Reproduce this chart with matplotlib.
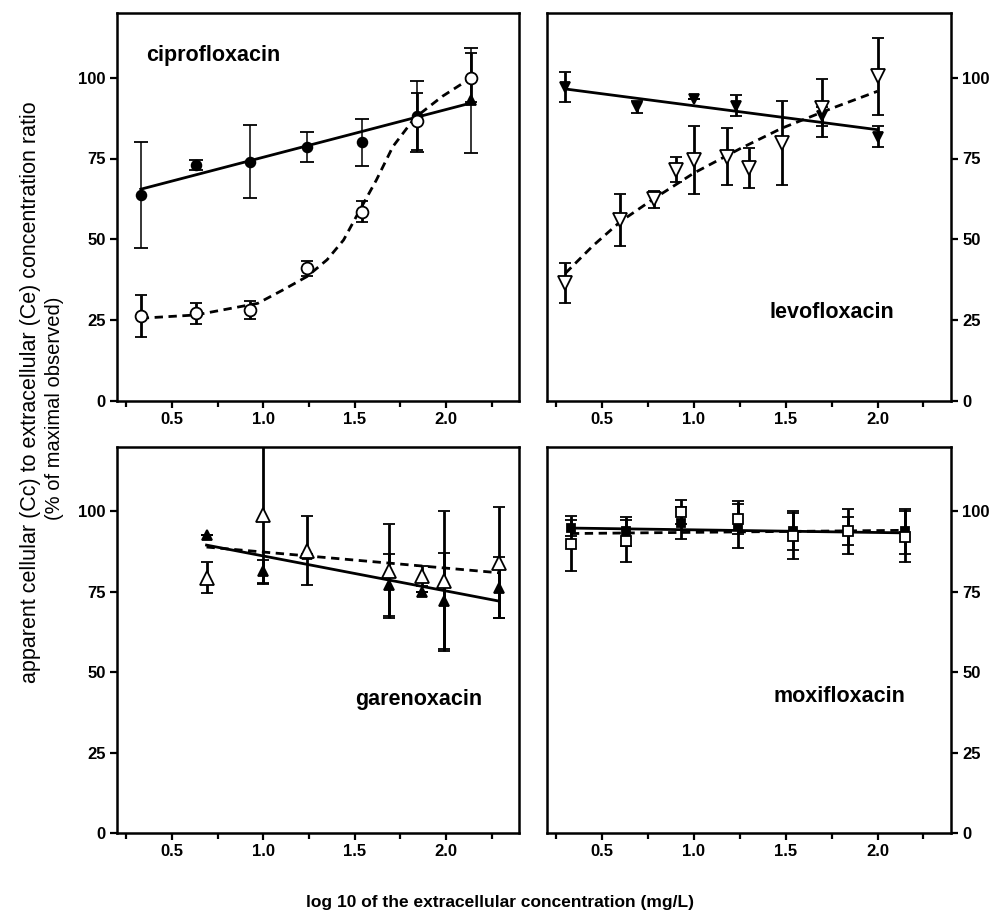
import matplotlib.pyplot as plt
from matplotlib.ticker import MultipleLocator

plt.rcParams['font.family'] = ['Liberation Sans', 'DejaVu Sans']

# ciprofloxacin
cip_x = [0.33, 0.63, 0.93, 1.24, 1.54, 1.84, 2.14]
cip_filled = [63.8, 72.9, 74.0, 78.5, 80.0, 88.0, 93.0]
cip_filled_err = [16.4, 1.5, 11.3, 4.7, 7.3, 10.9, 16.2]
cip_open = [26.3, 27.1, 28.2, 41.1, 58.6, 86.5, 100.0]
cip_open_err = [6.5, 3.2, 2.8, 2.3, 3.2, 8.9, 7.6]
cip_line_x = [0.33, 2.14]
cip_line_y = [65.5, 92.2]
cip_curve_x = [0.33, 0.63, 0.97, 1.11, 1.24, 1.35, 1.44, 1.54, 1.62, 1.71, 1.83, 1.98, 2.14]
cip_curve_y = [25.6, 26.6, 30.2, 34.4, 38.5, 43.7, 49.8, 60.2, 68.4, 78.7, 87.6, 94.2, 100.0]

# levofloxacin
levo_filled_x = [0.30, 0.69, 1.00, 1.23, 1.70, 2.00]
levo_filled = [97.1, 90.9, 93.5, 91.3, 88.0, 81.8]
levo_filled_err = [4.5, 1.8, 0.0, 3.2, 3.0, 3.2]
levo_open_x = [0.30, 0.60, 0.78, 0.90, 1.00, 1.18, 1.30, 1.48, 1.70, 2.00]
levo_open = [36.4, 56.0, 62.4, 71.5, 74.6, 75.6, 72.0, 79.8, 90.6, 100.4]
levo_open_err = [6.2, 8.0, 2.7, 3.9, 10.6, 8.9, 6.2, 13.0, 9.0, 12.0]
levo_line_x = [0.30, 2.00]
levo_line_y = [96.5, 83.9]
levo_curve_x = [0.30, 0.45, 0.60, 0.78, 1.00, 1.25, 1.48, 1.75, 2.00]
levo_curve_y = [39.5, 48.0, 55.5, 62.5, 70.5, 78.0, 84.4, 90.5, 95.8]

# garenoxacin
gar_x = [0.69, 1.00, 1.24, 1.69, 1.87, 1.99, 2.29]
gar_filled = [92.6, 81.4, 86.6, 77.1, 75.0, 72.1, 76.3]
gar_filled_err = [0.0, 3.6, 0.0, 9.5, 0.0, 15.0, 9.5]
gar_open = [79.4, 99.0, 87.8, 81.4, 79.9, 78.3, 84.0]
gar_open_err = [4.8, 21.5, 10.6, 14.7, 3.0, 21.7, 17.2]
gar_line_x = [0.69, 2.29]
gar_line_y = [89.5, 72.1]
gar_dash_y = [88.9, 80.9]

# moxifloxacin
mox_x = [0.33, 0.63, 0.93, 1.24, 1.54, 1.84, 2.15]
mox_filled = [94.8, 93.8, 96.4, 95.9, 94.0, 93.8, 93.8]
mox_filled_err = [2.4, 4.5, 5.0, 7.3, 6.0, 4.3, 7.0]
mox_open = [89.9, 90.9, 99.8, 97.7, 92.3, 93.8, 92.1]
mox_open_err = [8.5, 6.5, 3.8, 4.6, 7.2, 7.0, 8.0]
mox_line_x = [0.33, 2.15]
mox_line_y = [94.8, 93.3]
mox_dash_y = [93.1, 94.1]

W, H = 996, 916
fig = plt.figure(figsize=(W / 100, H / 100), dpi=100)


def make_ax(left, top, right, bottom, side):
    ax = fig.add_axes([left / W, 1 - bottom / H, (right - left) / W, (bottom - top) / H])
    ax.set_xlim(0.2, 2.4)
    ax.set_ylim(0, 120)
    ax.xaxis.set_major_locator(MultipleLocator(0.5))
    ax.xaxis.set_minor_locator(MultipleLocator(0.25))
    ax.set_yticks([0, 25, 50, 75, 100])
    ax.xaxis.set_major_formatter(plt.FuncFormatter(lambda v, p: '%.1f' % v))
    for s in ax.spines.values():
        s.set_linewidth(1.8)
    ax.tick_params(axis='both', which='major', direction='out', length=5, width=1.6,
                   labelsize=12, pad=3)
    ax.tick_params(axis='x', which='minor', direction='out', length=4, width=1.6)
    if side == 'right':
        ax.yaxis.tick_right()
    for lab in ax.get_xticklabels() + ax.get_yticklabels():
        lab.set_fontweight('bold')
    return ax


def ebar(ax, x, y, err, marker, ms, face, lw=2.0, cap=4.5):
    ax.errorbar(x, y, yerr=err, fmt=marker, ms=ms, mfc=face, mec='black', mew=1.3,
                ecolor='black', elinewidth=lw, capsize=cap, capthick=lw, zorder=3)


ax1 = make_ax(117, 13, 519, 401, 'left')
ax2 = make_ax(547, 13, 951, 401, 'right')
ax3 = make_ax(117, 447, 519, 833, 'left')
ax4 = make_ax(547, 447, 951, 833, 'right')

# ciprofloxacin
ax1.plot(cip_line_x, cip_line_y, color='black', lw=2)
ax1.plot(cip_curve_x, cip_curve_y, color='black', lw=2, ls=(0, (3, 2)))
ebar(ax1, cip_x[:-1], cip_filled[:-1], cip_filled_err[:-1], 'o', 7, 'black', lw=1.1, cap=5)
ebar(ax1, cip_x[-1:], cip_filled[-1:], cip_filled_err[-1:], '^', 7.5, 'black', lw=1.1, cap=5)
ebar(ax1, cip_x, cip_open, cip_open_err, 'o', 8.5, 'white')
ax1.text(0.36, 107, 'ciprofloxacin', fontsize=15.5, fontweight='bold', va='center')

# levofloxacin
ax2.plot(levo_line_x, levo_line_y, color='black', lw=2)
ax2.plot(levo_curve_x, levo_curve_y, color='black', lw=2, ls=(0, (3, 2)))
ebar(ax2, levo_filled_x, levo_filled, levo_filled_err, 'v', 7.5, 'black')
ebar(ax2, levo_open_x, levo_open, levo_open_err, 'v', 9.5, 'white')
ax2.text(2.09, 27.5, 'levofloxacin', fontsize=15.5, fontweight='bold', va='center', ha='right')

# garenoxacin
ax3.plot(gar_line_x, gar_line_y, color='black', lw=2)
ax3.plot(gar_line_x, gar_dash_y, color='black', lw=2, ls=(0, (3, 2)))
ebar(ax3, gar_x, gar_filled, gar_filled_err, '^', 7.5, 'black')
ebar(ax3, gar_x, gar_open, gar_open_err, '^', 9.5, 'white')
ax3.text(2.2, 41.5, 'garenoxacin', fontsize=15.5, fontweight='bold', va='center', ha='right')

# moxifloxacin
ax4.plot(mox_line_x, mox_line_y, color='black', lw=2)
ax4.plot(mox_line_x, mox_dash_y, color='black', lw=2, ls=(0, (3, 2)))
ebar(ax4, mox_x, mox_filled, mox_filled_err, 's', 5.5, 'black')
ebar(ax4, mox_x, mox_open, mox_open_err, 's', 7, 'white')
ax4.text(2.15, 42.5, 'moxifloxacin', fontsize=15.5, fontweight='bold', va='center', ha='right')

fig.text(500 / W, 1 - 903 / H, 'log 10 of the extracellular concentration (mg/L)',
         fontsize=12.5, fontweight='bold', ha='center', va='center')
fig.text(31 / W, 1 - 392 / H,
         'apparent cellular (Cc) to extracellular (Ce) concentration ratio',
         fontsize=15.5, rotation=90, ha='center', va='center')
fig.text(55 / W, 1 - 408 / H, '(% of maximal observed)',
         fontsize=14.5, rotation=90, ha='center', va='center')

fig.savefig('out.png', dpi=100)
